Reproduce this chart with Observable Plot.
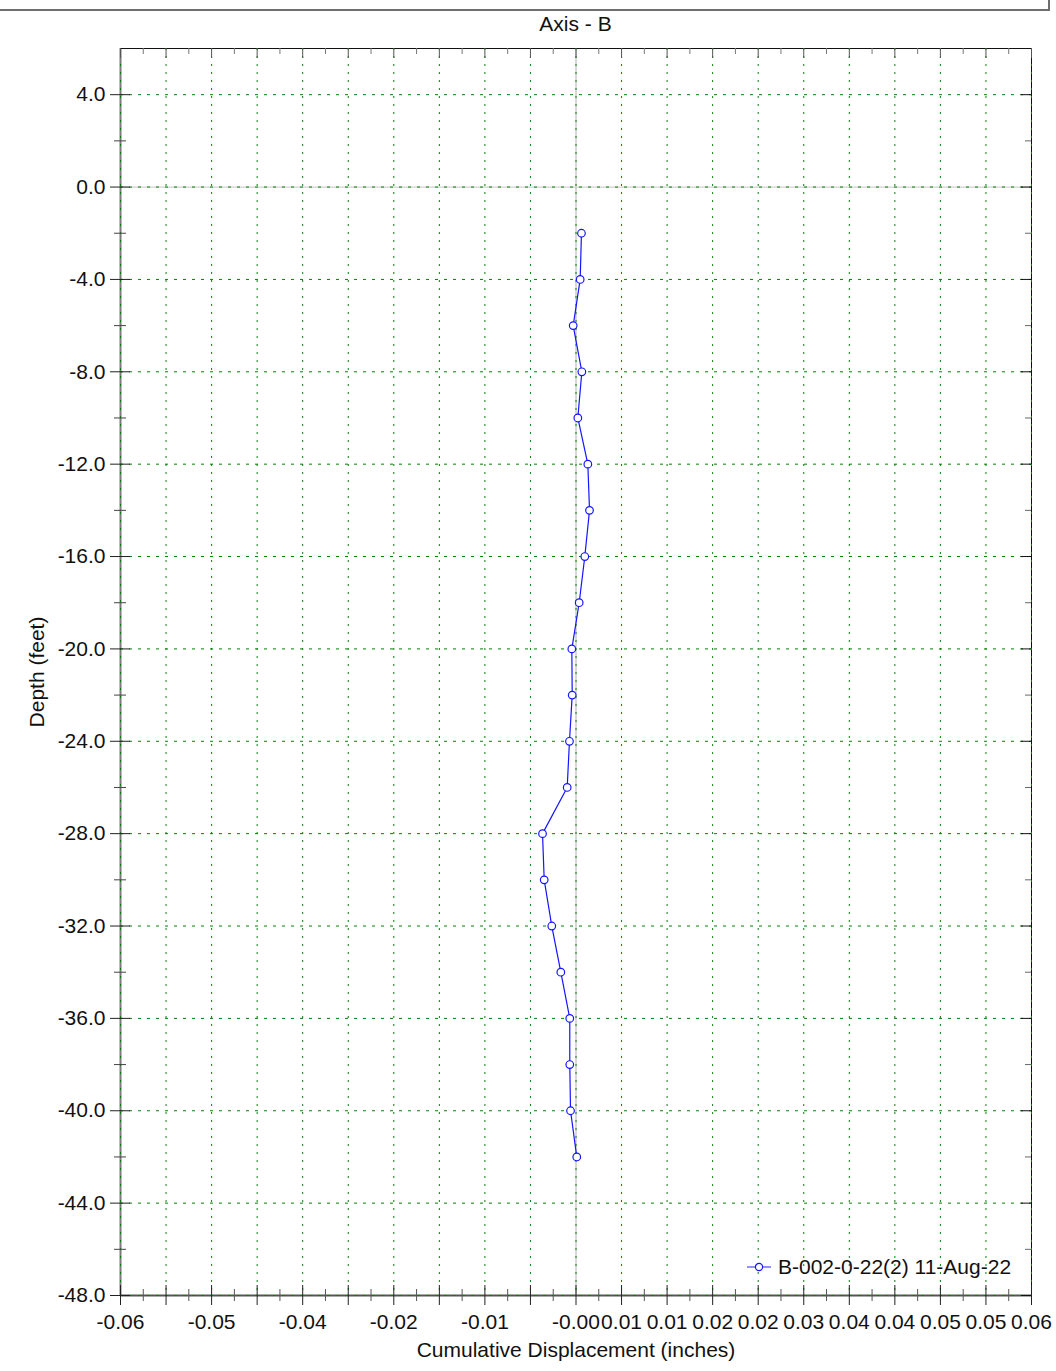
<!DOCTYPE html>
<html>
<head>
<meta charset="utf-8">
<script src="https://cdn.jsdelivr.net/npm/d3@7"></script>
<script src="https://cdn.jsdelivr.net/npm/@observablehq/plot@0.6"></script>
<style>
  body { margin: 0; background: #fff; font-family: "Liberation Sans", Arial, sans-serif; }
  #wrap { position: relative; width: 1056px; height: 1371px; overflow: hidden; }
  #wrap > svg { position: absolute; left: 0; top: 0; }
  #outer { position: absolute; left: 0; top: 0; width: 1048px; height: 9px; border-bottom: 2px solid #6e6e6e; border-right: 2px solid #6e6e6e; }
  #title { position: absolute; left: 575.5px; top: 11px; transform: translateX(-50%); background: #fff; padding: 0 9px; font-size: 21px; line-height: 26px; color: #111; white-space: nowrap; }
  #legend { position: absolute; left: 746px; top: 1254px; height: 26px; display: flex; align-items: center; font-size: 21px; color: #111; white-space: nowrap; }
  #legend svg { margin-right: 6px; }
</style>
</head>
<body>
<div id="wrap"></div>
<script>
// ---- data ----
const depths = [-2, -4, -6, -8, -10, -12, -14, -16, -18, -20, -22, -24, -26, -28, -30, -32, -34, -36, -38, -40, -42];
const displacement = [0.00072, 0.00055, -0.00037, 0.00077, 0.00024, 0.00156, 0.00178, 0.00116, 0.00042, -0.00055, -0.0005, -0.00086, -0.00116, -0.00441, -0.00419, -0.00319, -0.002, -0.00082, -0.00082, -0.00072, 0.0001];
const seriesName = "B-002-0-22(2) 11-Aug-22";
const chartTitle = "Axis - B";
const xLabel = "Cumulative Displacement (inches)";
const yLabel = "Depth (feet)";

const xDomain = [-0.06, 0.06];
const yDomain = [-48, 6];
const xMajorTicks = [-0.06, -0.054, -0.048, -0.042, -0.036, -0.03, -0.024, -0.018, -0.012, -0.006, 0, 0.006, 0.012, 0.018, 0.024, 0.03, 0.036, 0.042, 0.048, 0.054, 0.06];
const xMinorTicks = [-0.057, -0.051, -0.045, -0.039, -0.033, -0.027, -0.021, -0.015, -0.009, -0.003, 0.003, 0.009, 0.015, 0.021, 0.027, 0.033, 0.039, 0.045, 0.051, 0.057];
const xTickValues = [-0.06, -0.048, -0.036, -0.024, -0.012, 0, 0.006, 0.012, 0.018, 0.024, 0.03, 0.036, 0.042, 0.048, 0.054, 0.06];
const xTickLabels = ["-0.06", "-0.05", "-0.04", "-0.02", "-0.01", "-0.00", "0.01", "0.01", "0.02", "0.02", "0.03", "0.04", "0.04", "0.05", "0.05", "0.06"];
const yMajorTicks = [4, 0, -4, -8, -12, -16, -20, -24, -28, -32, -36, -40, -44, -48];
const yMinorTicks = [2, -2, -6, -10, -14, -18, -22, -26, -30, -34, -38, -42, -46];
const yTickLabels = ["4.0", "0.0", "-4.0", "-8.0", "-12.0", "-16.0", "-20.0", "-24.0", "-28.0", "-32.0", "-36.0", "-40.0", "-44.0", "-48.0"];

const points = depths.map((d, i) => ({x: displacement[i], y: d}));

// ---- layout ----
const W = 1056, H = 1371;
const mL = 120, mR = 25, mT = 48, mB = 76;
const pw = W - mL - mR, ph = H - mT - mB;
const grid = "#008000";
const tickColor = "#222";

const chart = Plot.plot({
  width: W, height: H,
  marginLeft: mL, marginRight: mR, marginTop: mT, marginBottom: mB,
  style: {background: "transparent", fontFamily: "'Liberation Sans', Arial, sans-serif", fontSize: "21px", color: "#111", overflow: "visible"},
  x: {domain: xDomain, axis: null},
  y: {domain: yDomain, axis: null},
  marks: [
    // zero lines
    Plot.ruleX([0], {stroke: "#bdbdbd", strokeWidth: 1.2}),
    Plot.ruleY([0], {stroke: "#d0d0d0", strokeWidth: 1.2}),
    // frame
    Plot.ruleX([xDomain[0]], {stroke: "#7a7a7a", strokeWidth: 2}),
    Plot.ruleX([xDomain[1]], {stroke: "#111", strokeWidth: 1}),
    Plot.ruleY([yDomain[1]], {stroke: "#111", strokeWidth: 1}),
    Plot.ruleY([yDomain[0]], {stroke: "#555", strokeWidth: 2}),
    // grid
    Plot.ruleX(xMajorTicks, {stroke: grid, strokeWidth: 1, strokeDasharray: "2,6"}),
    Plot.ruleY(yMajorTicks, {stroke: grid, strokeWidth: 1, strokeDasharray: "3,6"}),
    // bottom ticks (crossing)
    Plot.ruleX(xMajorTicks, {stroke: tickColor, insetTop: ph - 10, insetBottom: -10}),
    Plot.ruleX(xMinorTicks, {stroke: "#555", insetTop: ph - 6, insetBottom: -6}),
    // top ticks (inward)
    Plot.ruleX(xMajorTicks, {stroke: "#555", insetTop: 0, insetBottom: ph - 10}),
    Plot.ruleX(xMinorTicks, {stroke: "#777", insetTop: 0, insetBottom: ph - 6}),
    // left ticks (crossing)
    Plot.ruleY(yMajorTicks, {stroke: tickColor, insetLeft: -10, insetRight: pw - 10}),
    Plot.ruleY(yMinorTicks, {stroke: "#444", insetLeft: -6, insetRight: pw - 6}),
    // right ticks (inward)
    Plot.ruleY(yMajorTicks, {stroke: "#111", insetLeft: pw - 10, insetRight: 0}),
    Plot.ruleY(yMinorTicks, {stroke: "#666", insetLeft: pw - 6, insetRight: 0}),
    // tick labels
    Plot.text(xTickValues, {x: d => d, frameAnchor: "bottom", lineAnchor: "middle", dy: 27, text: (d, i) => xTickLabels[i], fill: "#111", fontSize: 21}),
    Plot.text(yMajorTicks, {y: d => d, frameAnchor: "left", lineAnchor: "middle", dx: -15, textAnchor: "end", text: (d, i) => yTickLabels[i], fill: "#111", fontSize: 21}),
    // axis labels
    Plot.text([xLabel], {frameAnchor: "bottom", lineAnchor: "middle", textAnchor: "middle", dy: 55, fill: "#111", fontSize: 21}),
    Plot.text([yLabel], {frameAnchor: "left", lineAnchor: "middle", textAnchor: "middle", dx: -83, rotate: -90, fill: "#111", fontSize: 21}),
    // data
    Plot.line(points, {x: "x", y: "y", stroke: "#1515ff", strokeWidth: 1.2}),
    Plot.dot(points, {x: "x", y: "y", r: 3.8, fill: "white", stroke: "#1515ff", strokeWidth: 1.2})
  ]
});

const wrap = document.getElementById("wrap");
wrap.appendChild(chart);

const outer = document.createElement("div");
outer.id = "outer";
wrap.appendChild(outer);

const title = document.createElement("div");
title.id = "title";
title.textContent = chartTitle;
wrap.appendChild(title);

const legend = document.createElement("div");
legend.id = "legend";
legend.innerHTML = '<svg width="26" height="14"><line x1="1" y1="7" x2="25" y2="7" stroke="#7676ff" stroke-width="1.6"/><circle cx="13" cy="7" r="3.6" fill="white" stroke="#1515ff" stroke-width="1.2"/></svg>';
const lt = document.createElement("span");
lt.textContent = seriesName;
legend.appendChild(lt);
wrap.appendChild(legend);
</script>
</body>
</html>
